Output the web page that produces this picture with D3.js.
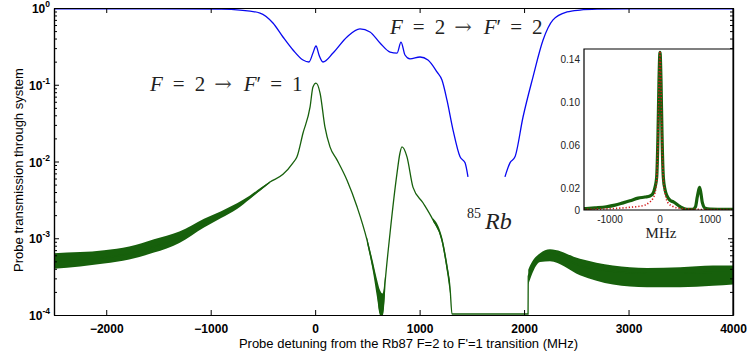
<!DOCTYPE html>
<html>
<head>
<meta charset="utf-8">
<script src="https://cdn.jsdelivr.net/npm/d3@7"></script>
<style>
body { margin: 0; background: #fff; }
.sans { font-family: "Liberation Sans", Arial, sans-serif; }
.serif { font-family: "Liberation Serif", "Times New Roman", serif; }
.arrow { font-family: "DejaVu Serif", serif; }
</style>
</head>
<body>
<svg id="chart" width="747" height="362"></svg>
<script>
// ---- data ----
const xTicks = [-2000, -1000, 0, 1000, 2000, 3000, 4000]
const yTicks = [1e-4, 1e-3, 1e-2, 1e-1, 1]
const yTickExp = ['-4', '-3', '-2', '-1', '0']

// blue: probe transmission with both cells (null = gap where no data)
const blueMHz = [-2500, -1500, -900, -720, -528, -404, -308, -212, -116, -59, -21, 8, 37, 75, 171, 305, 429, 525,
  621, 717, 784, 822, 860, 908, 1004, 1080, 1166, 1214, 1262, 1320, 1387, 1435, 1463,
  1640,
  1817, 1865, 1913, 1990, 2085, 2181, 2277, 2411, 2535, 2700, 3000, 4000]
const blueT = [0.975, 0.975, 0.965, 0.94, 0.86, 0.638, 0.419, 0.284, 0.21, 0.198, 0.259, 0.32, 0.244, 0.198, 0.259, 0.419, 0.533, 0.487,
  0.35, 0.267, 0.259, 0.36, 0.244, 0.217, 0.23, 0.21, 0.147, 0.115, 0.063, 0.0257, 0.0115, 0.0096, 0.0063,
  null,
  0.0063, 0.0096, 0.0115, 0.038, 0.126, 0.38, 0.70, 0.887, 0.94, 0.965, 0.975, 0.975]

// green: transmission through the Rb87 cell, centre line and noise envelope
const greenMHz = [-2500, -2250, -2021, -1780, -1543, -1300, -1064, -900, -748, -624, -518, -432, -308, -212, -174, -116, -49, -21, 8, 47, 94, 142, 209, 305, 401, 496,
  554, 592, 621, 645, 669, 717, 784, 812, 831, 879, 937, 1032, 1128, 1214, 1262, 1291, 1310,
  2038, 2040, 2057, 2153, 2248, 2535, 2851, 3177, 3493, 3809, 4000]
const greenT = [5.0e-4, 5.2e-4, 5.6e-4, 6.3e-4, 7.8e-4, 1.0e-3, 1.55e-3, 2.0e-3, 2.6e-3, 3.4e-3, 4.4e-3, 5.4e-3, 6.8e-3, 9.6e-3, 1.15e-2, 2.35e-2, 5.1e-2, 9.35e-2, 0.105, 0.078, 0.028, 0.0155, 0.0105, 5.7e-3, 2.57e-3, 9.5e-4,
  4.2e-4, 2.3e-4, 1.1e-4, 1.0e-4, 2.6e-4, 1.17e-3, 7.1e-3, 1.29e-2, 1.55e-2, 1.15e-2, 4.6e-3, 2.9e-3, 1.73e-3, 9.5e-4, 4.2e-4, 2.3e-4, 1.03e-4,
  1.03e-4, 3.2e-4, 3.6e-4, 5.7e-4, 6.3e-4, 4.4e-4, 3.7e-4, 3.5e-4, 3.5e-4, 3.6e-4, 3.6e-4]
const greenLow = [4.0e-4, 4.3e-4, 4.7e-4, 5.3e-4, 6.5e-4, 8.7e-4, 1.38e-3, 1.83e-3, 2.4e-3, 3.25e-3, 4.25e-3, 5.3e-3, null, null, null, null, null, null, null, null, null, null, null, null, null, 8.7e-4,
  3.6e-4, 1.7e-4, 1.0e-4, 1.0e-4, 2.0e-4, null, null, null, null, null, null, null, 1.65e-3, 8.6e-4, 3.6e-4, 1.9e-4, null,
  null, 2.5e-4, 2.9e-4, 4.9e-4, 5.0e-4, 3.3e-4, 2.5e-4, 2.3e-4, 2.3e-4, 2.4e-4, 2.5e-4]
const greenHigh = [6.4e-4, 6.6e-4, 7.0e-4, 7.8e-4, 9.7e-4, 1.22e-3, 1.8e-3, 2.25e-3, 2.85e-3, 3.6e-3, 4.6e-3, 5.5e-3, null, null, null, null, null, null, null, null, null, null, null, null, null, 1.03e-3,
  4.9e-4, 2.9e-4, 2.1e-4, 1.9e-4, 3.2e-4, null, null, null, null, null, null, null, 1.82e-3, 1.05e-3, 4.9e-4, 2.7e-4, null,
  null, 3.9e-4, 4.4e-4, 6.4e-4, 7.2e-4, 5.4e-4, 4.4e-4, 4.1e-4, 4.2e-4, 4.4e-4, 4.4e-4]

// inset (linear): measured peak and fitted lorentzian
const insetXTicks = [-1000, 0, 1000]
const insetYTicks = [0, 0.02, 0.06, 0.10, 0.14]
const insetYLabels = ['0', '0.02', '0.06', '0.10', '0.14']
const insetMHz = [-1520, -1300, -1073, -900, -739, -600, -437, -302, -200, -150, -100, -67, -40, -20, 0, 20, 40, 67, 100, 135, 200, 268, 403, 540, 650, 710, 745, 771, 792, 820, 846, 906, 1000, 1200, 1460]
const insetMeas = [0.0012, 0.002, 0.003, 0.0045, 0.0066, 0.0085, 0.011, 0.012, 0.013, 0.0145, 0.021, 0.03, 0.07, 0.12, 0.146, 0.12, 0.07, 0.03, 0.019, 0.0136, 0.009, 0.0075, 0.003, 0.0005, 0.0005, 0.003, 0.012, 0.018, 0.021, 0.015, 0.007, 0.0015, 0.0008, 0.0006, 0.0005]
const fitMHz = [-1520, -1000, -600, -400, -300, -200, -150, -100, -67, -40, -20, 0, 20, 40, 67, 100, 168, 250, 403, 600, 1000, 1460]
const fitT = [0.0006, 0.0012, 0.0025, 0.0035, 0.0045, 0.0075, 0.01, 0.016, 0.028, 0.065, 0.115, 0.147, 0.115, 0.065, 0.028, 0.016, 0.006, 0.0035, 0.0015, 0.0008, 0.0004, 0.0003]

// ---- layout ----
const margin = { top: 8, right: 14, bottom: 47, left: 54 },
  width = 747 - margin.left - margin.right,
  height = 362 - margin.top - margin.bottom

const blue = '#0808f0'
const green = '#17600c'

const svg = d3.select('#chart')
const g = svg.append('g').attr('transform', `translate(${margin.left},${margin.top})`)

const x = d3.scaleLinear().domain([-2500, 4000]).range([0, width])
const y = d3.scaleLog().domain([1e-4, 1]).range([height, 0])

g.append('clipPath').attr('id', 'plotClip')
  .append('rect').attr('width', width).attr('height', height)

const plot = g.append('g').attr('clip-path', 'url(#plotClip)')

// green noise envelope
const greenRows = greenMHz.map((m, i) => ({ m: m, t: greenT[i], lo: greenLow[i], hi: greenHigh[i] }))
const band = d3.area()
  .defined(d => d.lo != null)
  .x(d => x(d.m))
  .y0(d => y(d.lo))
  .y1(d => y(d.hi))
  .curve(d3.curveMonotoneX)
plot.append('path').datum(greenRows)
  .attr('d', band)
  .attr('fill', green)

const greenLine = d3.line()
  .x(d => x(d.m))
  .y(d => y(d.t))
  .curve(d3.curveMonotoneX)
plot.append('path').datum(greenRows)
  .attr('d', greenLine)
  .attr('fill', 'none')
  .attr('stroke', green)
  .attr('stroke-width', 1.3)

// blue
const blueRows = blueMHz.map((m, i) => ({ m: m, t: blueT[i] }))
plot.append('path').datum(blueRows)
  .attr('d', d3.line().defined(d => d.t != null).x(d => x(d.m)).y(d => y(d.t)).curve(d3.curveMonotoneX))
  .attr('fill', 'none')
  .attr('stroke', blue)
  .attr('stroke-width', 1.3)

// ---- axes (matlab style box, ticks inward) ----
const minors = []
yTicks.slice(0, -1).forEach(d => { for (let k = 2; k <= 9; k++) minors.push(d * k) })

const axisBottom = g.append('g').attr('transform', `translate(0,${height})`)
  .call(d3.axisBottom(x).tickValues(xTicks).tickSize(-5).tickSizeOuter(0).tickPadding(9).tickFormat(d3.format('d')))
g.append('g')
  .call(d3.axisTop(x).tickValues(xTicks).tickSize(-5).tickSizeOuter(0).tickFormat(''))
g.append('g')
  .call(d3.axisLeft(y).tickValues(yTicks).tickSize(-5).tickSizeOuter(0).tickFormat(''))
g.append('g')
  .call(d3.axisLeft(y).tickValues(minors).tickSize(-3).tickSizeOuter(0).tickFormat(''))
g.append('g').attr('transform', `translate(${width},0)`)
  .call(d3.axisRight(y).tickValues(yTicks).tickSize(-5).tickSizeOuter(0).tickFormat(''))
g.append('g').attr('transform', `translate(${width},0)`)
  .call(d3.axisRight(y).tickValues(minors).tickSize(-3).tickSizeOuter(0).tickFormat(''))

g.selectAll('.domain').attr('stroke', '#000').attr('stroke-width', 1.2)
g.selectAll('.tick line').attr('stroke', '#000')

axisBottom.selectAll('text')
  .attr('class', 'sans')
  .attr('font-size', 12).attr('font-weight', 'bold').attr('fill', '#000')

// y tick labels 10^n
const yl = g.append('g')
yTicks.forEach((d, i) => {
  const t = yl.append('text')
    .attr('class', 'sans')
    .attr('x', -4).attr('y', y(d) + 5)
    .attr('text-anchor', 'end')
    .attr('font-size', 12).attr('font-weight', 'bold').attr('fill', '#000')
  t.append('tspan').text('10')
  t.append('tspan').attr('dy', -6).attr('font-size', 8.5).text(yTickExp[i])
})

// axis titles
svg.append('text').attr('class', 'sans')
  .attr('x', margin.left + width / 2 + 15).attr('y', 348)
  .attr('text-anchor', 'middle').attr('font-size', 13).attr('fill', '#000')
  .text("Probe detuning from the Rb87 F=2 to F'=1 transition (MHz)")
svg.append('text').attr('class', 'sans')
  .attr('transform', 'translate(23,170) rotate(-90)')
  .attr('text-anchor', 'middle').attr('font-size', 13).attr('fill', '#000')
  .text('Probe transmission through system')

// ---- annotations ----
function transitionLabel(px, py, last) {
  const t = svg.append('text').attr('class', 'serif')
    .attr('x', px).attr('y', py)
    .attr('font-size', 21).attr('fill', '#222')
  t.append('tspan').attr('font-style', 'italic').text('F')
  t.append('tspan').attr('dx', 10).text('=')
  t.append('tspan').attr('dx', 10).text('2')
  t.append('tspan').attr('class', 'arrow').attr('dx', 9).attr('fill', '#444').text('\u2192')
  t.append('tspan').attr('dx', 12).attr('font-style', 'italic').text('F')
  t.append('tspan').text('\u2032')
  t.append('tspan').attr('dx', 9).text('=')
  t.append('tspan').attr('dx', 10).text(last)
}
transitionLabel(390, 34, '2')
transitionLabel(150, 91, '1')

const rb = svg.append('text').attr('class', 'serif')
  .attr('x', 467).attr('y', 229).attr('fill', '#222')
rb.append('tspan').attr('font-size', 14).attr('dy', -11).text('85')
rb.append('tspan').attr('font-size', 24).attr('font-style', 'italic').attr('dy', 11).attr('dx', 4).text('Rb')

// ---- inset ----
const inset = { left: 584, top: 49, right: 733, bottom: 210 }
const ix = d3.scaleLinear().domain([-1520, 1460]).range([inset.left, inset.right])
const iy = d3.scaleLinear().domain([0, 0.149]).range([inset.bottom, inset.top])

const ig = svg.append('g')
ig.append('rect')
  .attr('x', inset.left).attr('y', inset.top)
  .attr('width', inset.right - inset.left).attr('height', inset.bottom - inset.top)
  .attr('fill', '#fff')

ig.append('clipPath').attr('id', 'insetClip')
  .append('rect')
  .attr('x', inset.left).attr('y', inset.top - 4)
  .attr('width', inset.right - inset.left).attr('height', inset.bottom - inset.top + 4)

const ip = ig.append('g').attr('clip-path', 'url(#insetClip)')
const measRows = insetMHz.map((m, i) => ({ m: m, t: insetMeas[i] }))
ip.append('path').datum(measRows)
  .attr('d', d3.line().x(d => ix(d.m)).y(d => iy(d.t)).curve(d3.curveMonotoneX))
  .attr('fill', 'none').attr('stroke', green).attr('stroke-width', 3.2)
  .attr('stroke-linejoin', 'round')
const fitRows = fitMHz.map((m, i) => ({ m: m, t: fitT[i] }))
ip.append('path').datum(fitRows)
  .attr('d', d3.line().x(d => ix(d.m)).y(d => iy(d.t)).curve(d3.curveMonotoneX))
  .attr('fill', 'none').attr('stroke', '#d01818').attr('stroke-width', 1.6)
  .attr('stroke-dasharray', '1.2,2')

ig.append('path')
  .attr('d', `M${inset.right},${inset.top}H${inset.left}V${inset.bottom}H${inset.right}`)
  .attr('fill', 'none').attr('stroke', '#000').attr('stroke-width', 1.2)

ig.selectAll('.ylab').data(insetYTicks).join('text')
  .attr('class', 'sans')
  .attr('x', inset.left - 4).attr('y', d => iy(d) + 4)
  .attr('text-anchor', 'end').attr('font-size', 10).attr('fill', '#222')
  .text((d, i) => insetYLabels[i])
ig.selectAll('.xlab').data(insetXTicks).join('text')
  .attr('class', 'sans')
  .attr('x', d => ix(d)).attr('y', inset.bottom + 13)
  .attr('text-anchor', 'middle').attr('font-size', 10).attr('fill', '#222')
  .text(d => d)
ig.append('text').attr('class', 'serif')
  .attr('x', 661).attr('y', 238)
  .attr('text-anchor', 'middle').attr('font-size', 15).attr('fill', '#222')
  .text('MHz')

// redraw right main axis line over the inset
svg.append('line')
  .attr('x1', margin.left + width).attr('x2', margin.left + width)
  .attr('y1', margin.top).attr('y2', margin.top + height)
  .attr('stroke', '#000').attr('stroke-width', 1.2)
</script>
</body>
</html>
